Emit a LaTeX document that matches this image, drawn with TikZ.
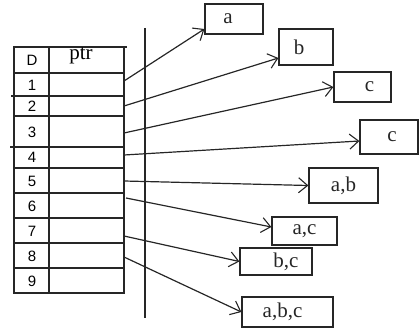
\documentclass[tikz,border=0pt]{standalone}
\usepackage{fontspec}
\setmainfont{Liberation Serif}
\setsansfont{Liberation Sans}
\usetikzlibrary{arrows.meta,calc}
\begin{document}
\begin{tikzpicture}[x=1pt,y=-1pt,
  ln/.style={line width=1.2pt,black!85},
  box/.style={draw,ln,inner sep=0pt,font=\rmfamily\fontsize{21}{21}\selectfont},
  dig/.style={font=\sffamily\fontsize{15}{15}\selectfont,inner sep=0pt},
  arr/.style={ln,-{Straight Barb[length=9pt,width=15pt,line width=1.1pt]}}]
\useasboundingbox (0,0) rectangle (419,331);
% table
\draw[ln] (14,47) rectangle (124,293);
\draw[ln] (49,47) -- (49,293);
\draw[ln] (124,47) -- (127,47);
\foreach \yy in {73,116,168,193,218,243,268} \draw[ln] (14,\yy) -- (124,\yy);
\draw[ln] (11,96) -- (124,96);
\draw[ln] (10,147) -- (124,147);
\node[dig] (hD) at (32,60) {D};
\node[font=\rmfamily\fontsize{21}{21}\selectfont,inner sep=0pt] (hptr) at (81,56) {ptr};
\node[dig] (r1) at (32,85) {1};
\node[dig] (r2) at (32,106) {2};
\node[dig] (r3) at (32,132) {3};
\node[dig] (r4) at (32,157) {4};
\node[dig] (r5) at (32,181) {5};
\node[dig] (r6) at (32,206) {6};
\node[dig] (r7) at (32,231) {7};
\node[dig] (r8) at (32,256) {8};
\node[dig] (r9) at (32,281) {9};
% vertical line
\draw[ln] (145,28) -- (145,318);
% boxes
\node[box,minimum width=58,minimum height=30] (na) at (234,19) {\hspace{-12pt}a};
\node[box,minimum width=54,minimum height=36] (nb) at (306,47) {\hspace{-14pt}b};
\node[box,minimum width=57,minimum height=30] (nc1) at (362.5,87) {\hspace{14pt}c};
\node[box,minimum width=58,minimum height=34] (nc2) at (389,137) {\hspace{6pt}c};
\node[box,minimum width=69,minimum height=35] (nab) at (343.5,185.5) {a,b};
\node[box,minimum width=65,minimum height=28] (nac) at (304.5,231) {a,c};
\node[box,minimum width=72,minimum height=27] (nbc) at (276,261.5) {\hspace{20pt}b,c};
\node[box,minimum width=91,minimum height=30] (nabc) at (287.5,312) {\hspace{-10pt}a,b,c};
% start points
\coordinate (s1) at (124,81);
\coordinate (s2) at (124,106);
\coordinate (s3) at (124,133);
\coordinate (s4) at (124,155);
\coordinate (s5) at (124,181);
\coordinate (s6) at (126,198);
\coordinate (s7) at (124,236);
\coordinate (s8) at (124,257);
% arrows
\draw[arr] (s1) -- ($(na.west)+(0,10)$);
\draw[arr] (s2) -- ($(nb.west)+(0,11)$);
\draw[arr] (s3) -- (nc1.west);
\draw[arr] (s4) -- ($(nc2.west)+(0,4)$);
\draw[arr] (s5) -- (nab.west);
\draw[arr] (s6) -- ($(nac.west)+(0,-4)$);
\draw[arr] (s7) -- (nbc.west);
\draw[arr] (s8) -- (nabc.west);
\end{tikzpicture}
\end{document}
